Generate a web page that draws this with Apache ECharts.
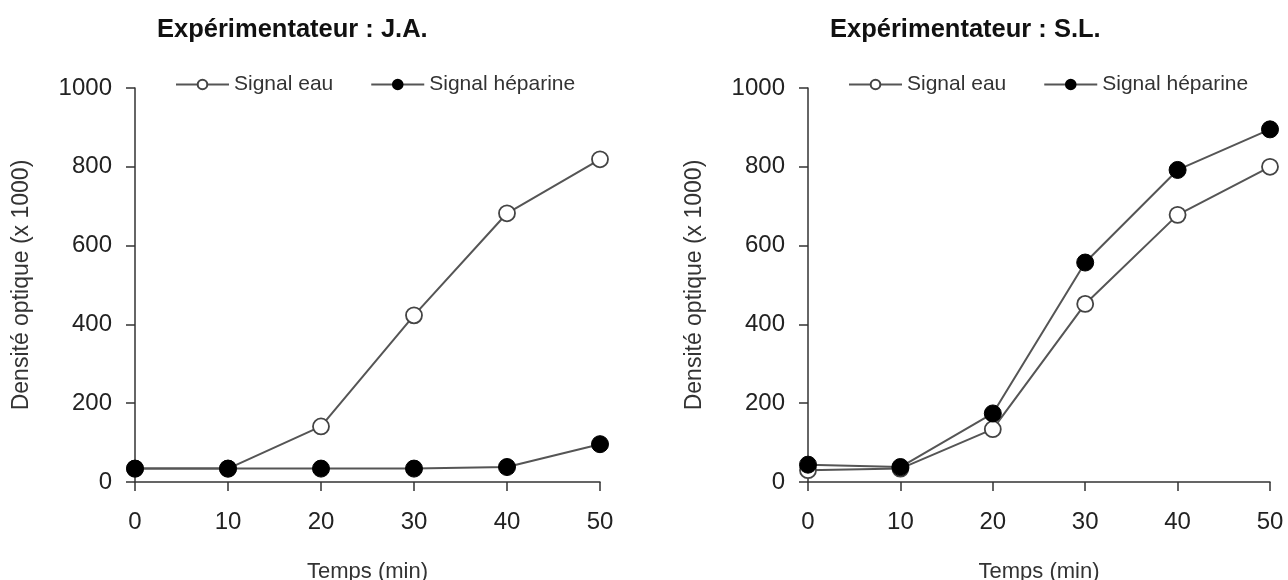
<!DOCTYPE html>
<html>
<head>
<meta charset="utf-8">
<script src="https://cdn.jsdelivr.net/npm/echarts@6/dist/echarts.min.js"></script>
<style>
  html, body { margin: 0; padding: 0; background: #fff; }
  #chart { width: 1288px; height: 580px; }
</style>
</head>
<body>
<div id="chart"></div>
<script>
// ---- data ----
const times = [0, 10, 20, 30, 40, 50];
const jaEau = [34, 34, 141, 423, 682, 819];
const jaHeparine = [34, 34, 34, 34, 38, 96];
const slEau = [30, 34, 134, 452, 678, 800];
const slHeparine = [44, 38, 174, 557, 792, 895];
const titles = ['Expérimentateur : J.A.', 'Expérimentateur : S.L.'];
const seriesNames = ['Signal eau', 'Signal héparine'];
const xName = 'Temps (min)';
const yName = 'Densité optique (x 1000)';
const xTicks = [0, 10, 20, 30, 40, 50];
const yTicks = [0, 200, 400, 600, 800, 1000];

const FONT = '"Liberation Sans", Arial, sans-serif';
const pairs = arr => times.map((t, i) => [t, arr[i]]);

const grids = [
  { left: 135, top: 88, width: 465, height: 394 },
  { left: 808, top: 88, width: 462, height: 394 }
];

function xAxis(gi) {
  return {
    type: 'value', gridIndex: gi,
    min: xTicks[0], max: xTicks[xTicks.length - 1], interval: xTicks[1] - xTicks[0],
    name: xName, nameLocation: 'middle', nameGap: 79,
    nameTextStyle: { fontFamily: FONT, fontSize: 22, color: '#333' },
    axisLine: { show: true, onZero: false, lineStyle: { color: '#333', width: 1.5 } },
    axisTick: { show: true, length: 9, inside: false, lineStyle: { color: '#333', width: 1.5 } },
    axisLabel: { fontFamily: FONT, fontSize: 24, color: '#222', margin: 28, showMinLabel: true, showMaxLabel: true,
                 formatter: v => String(v) },
    splitLine: { show: false }
  };
}
function yAxis(gi) {
  return {
    type: 'value', gridIndex: gi,
    min: yTicks[0], max: yTicks[yTicks.length - 1], interval: yTicks[1] - yTicks[0],
    name: yName, nameLocation: 'middle', nameGap: 102, nameRotate: 90,
    nameTextStyle: { fontFamily: FONT, fontSize: 23, color: '#333' },
    axisLine: { show: true, onZero: false, lineStyle: { color: '#333', width: 1.5 } },
    axisTick: { show: true, length: 9, inside: false, lineStyle: { color: '#333', width: 1.5 } },
    axisLabel: { fontFamily: FONT, fontSize: 24, color: '#222', margin: 23, formatter: v => String(v) },
    splitLine: { show: false }
  };
}
function eauSeries(gi, arr) {
  return {
    name: seriesNames[0], type: 'line', xAxisIndex: gi, yAxisIndex: gi,
    data: pairs(arr), symbol: 'circle', symbolSize: 16, z: 2,
    lineStyle: { color: '#555', width: 2 },
    itemStyle: { color: '#fff', borderColor: '#444', borderWidth: 1.8 },
    emphasis: { disabled: true }, animation: false
  };
}
function hepSeries(gi, arr) {
  return {
    name: seriesNames[1], type: 'line', xAxisIndex: gi, yAxisIndex: gi,
    data: pairs(arr), symbol: 'circle', symbolSize: 17, z: 3,
    lineStyle: { color: '#555', width: 2 },
    itemStyle: { color: '#000', borderColor: '#000', borderWidth: 1 },
    emphasis: { disabled: true }, animation: false
  };
}
function legend(left) {
  return {
    left: left, top: 74, padding: 0, itemWidth: 53, itemHeight: 12, itemGap: 37,
    data: seriesNames, selectedMode: false,
    textStyle: { fontFamily: FONT, fontSize: 21, color: '#333' }
  };
}

const chart = echarts.init(document.getElementById('chart'), null, { renderer: 'canvas' });
chart.setOption({
  animation: false,
  backgroundColor: '#fff',
  title: [
    { text: titles[0], left: 157, top: 17, padding: 0,
      textStyle: { fontFamily: FONT, fontSize: 25.5, fontWeight: 'bold', color: '#111' } },
    { text: titles[1], left: 830, top: 17, padding: 0,
      textStyle: { fontFamily: FONT, fontSize: 25.5, fontWeight: 'bold', color: '#111' } }
  ],
  legend: [legend(175), legend(848)],
  grid: grids.map(g => Object.assign({ containLabel: false, outerBoundsMode: 'none' }, g)),
  xAxis: [xAxis(0), xAxis(1)],
  yAxis: [yAxis(0), yAxis(1)],
  series: [
    eauSeries(0, jaEau), hepSeries(0, jaHeparine),
    eauSeries(1, slEau), hepSeries(1, slHeparine)
  ]
});
</script>
</body>
</html>
